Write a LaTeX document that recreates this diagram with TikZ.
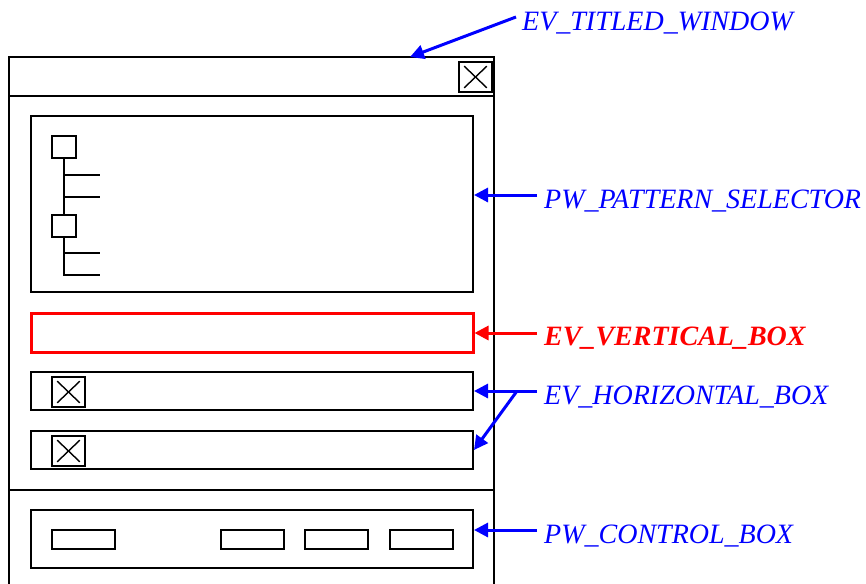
\documentclass[tikz,border=0pt]{standalone}
\usepackage{fontspec}
\setmainfont{Liberation Serif}
\usetikzlibrary{arrows.meta}
\definecolor{lblue}{RGB}{0,0,255}
\definecolor{lred}{RGB}{255,0,0}
\begin{document}
\begin{tikzpicture}[x=1pt,y=-1pt,
  box/.style={draw=black,line width=2pt,minimum width=442pt,inner sep=0pt},
  btn/.style={draw=black,line width=2pt,minimum width=63pt,minimum height=19pt,inner sep=0pt},
  chk/.style={draw=black,line width=1.6pt,minimum width=33pt,minimum height=30pt,inner sep=0pt},
  tbox/.style={draw=black,line width=1.4pt,minimum width=24pt,minimum height=22pt,inner sep=0pt},
  thin/.style={draw=black,line width=1.4pt},
  lbl/.style={anchor=base west,inner sep=0pt,font=\fontsize{28pt}{30pt}\selectfont\itshape},
  arr/.style={line width=3pt,-{Triangle[length=14pt,width=14pt]}},
]
\clip (0,0) rectangle (866,583);
\useasboundingbox (0,0) rectangle (866,583);
% window
\node[draw=black,line width=2pt,minimum width=485pt,minimum height=580pt,inner sep=0pt] (win) at (251.5,347) {};
\coordinate (tb) at (0,96);
\coordinate (sep) at (0,490);
\draw[line width=2pt] (win.west |- tb) -- (win.east |- tb);
\draw[line width=2pt] (win.west |- sep) -- (win.east |- sep);
% close button
\node[chk] (close) at (475.5,77) {};
\draw[line width=1.4pt] ([shift={(6pt,-5pt)}]close.north west) -- ([shift={(-6pt,5pt)}]close.south east);
\draw[line width=1.4pt] ([shift={(6pt,5pt)}]close.south west) -- ([shift={(-6pt,-5pt)}]close.north east);
% pattern selector
\node[box,minimum height=176pt] (pat) at (252,204) {};
\node[tbox] (t1) at (64,147) {};
\node[tbox] (t2) at (64,226) {};
\coordinate (l1) at (100,175);
\coordinate (l2) at (100,197);
\coordinate (l3) at (100,253);
\coordinate (l4) at (100,275);
\draw[thin] (t1.south) -- (t2.north);
\draw[thin] (t2.south) -- (t2.south |- l4) -- (l4);
\draw[thin] (t1.south |- l1) -- (l1);
\draw[thin] (t1.south |- l2) -- (l2);
\draw[thin] (t2.south |- l3) -- (l3);
% vertical box (red)
\node[box,draw=lred,line width=3pt,minimum height=39pt] (vbox) at (252,332.5) {};
% horizontal boxes
\node[box,minimum height=38pt] (hb1) at (252,391) {};
\node[box,minimum height=38pt] (hb2) at (252,450) {};
\node[chk] (c1) at (68.5,392) {};
\node[chk] (c2) at (68.5,451) {};
\foreach \c in {c1,c2}{
  \draw[line width=1.4pt] ([shift={(6pt,-5pt)}]\c.north west) -- ([shift={(-6pt,5pt)}]\c.south east);
  \draw[line width=1.4pt] ([shift={(6pt,5pt)}]\c.south west) -- ([shift={(-6pt,-5pt)}]\c.north east);
}
% control box
\node[box,minimum height=58pt] (ctl) at (252,539) {};
\node[btn] (b1) at (83.5,539) {};
\node[btn] (b2) at (252.5,539) {};
\node[btn] (b3) at (336.5,539) {};
\node[btn] (b4) at (421,539) {};
% labels
\node[lbl,text=lblue] (ltw) at (522,31) {EV\_TITLED\_WINDOW};
\node[lbl,text=lblue] (lps) at (544,208) {PW\_PATTERN\_SELECTOR};
\node[lbl,text=lred,font=\fontsize{28pt}{30pt}\selectfont\bfseries\itshape] (lvb) at (544,345) {EV\_VERTICAL\_BOX};
\node[lbl,text=lblue] (lhb) at (544,404) {EV\_HORIZONTAL\_BOX};
\node[lbl,text=lblue] (lcb) at (544,543) {PW\_CONTROL\_BOX};
% arrows
\coordinate (atw) at (516,17);
\coordinate (wtop) at (410,57);
\coordinate (aps) at (537,195);
\coordinate (avb) at (537,333);
\coordinate (ahb) at (537,391);
\coordinate (abr) at (517,391);
\coordinate (acb) at (537,530);
\draw[arr,lblue] (atw) -- (wtop);
\draw[arr,lblue] (aps) -- (aps -| pat.east);
\draw[arr,lred] (avb) -- (avb -| vbox.east);
\draw[arr,lblue] (ahb) -- (ahb -| hb1.east);
\draw[arr,lblue] (abr) -- (hb2.east);
\draw[arr,lblue] (acb) -- (acb -| ctl.east);
\end{tikzpicture}
\end{document}
